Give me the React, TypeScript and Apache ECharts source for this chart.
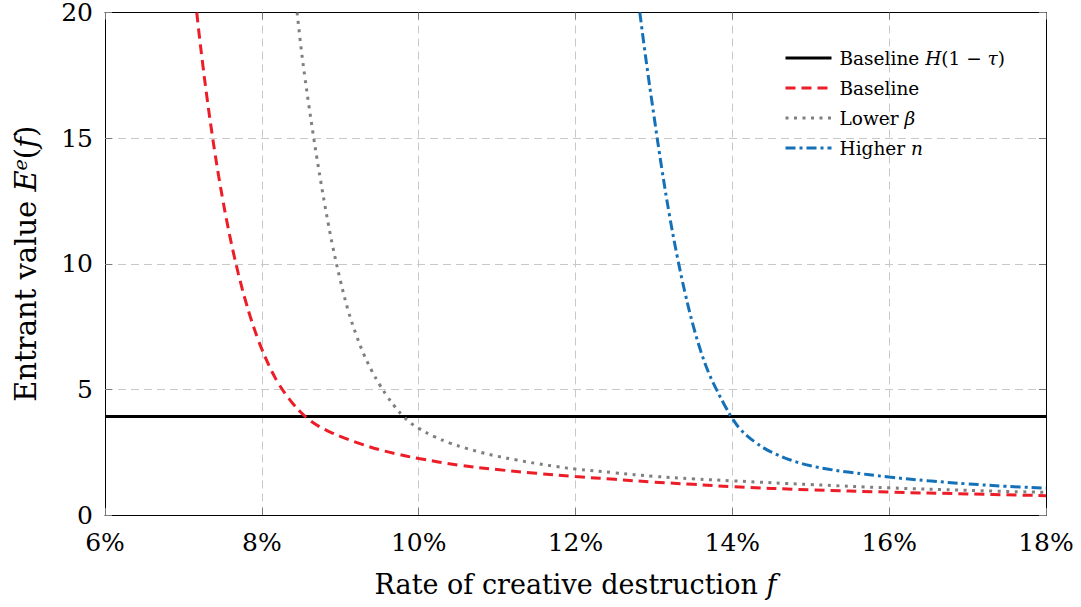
import React, { useEffect, useRef } from "react";
import * as echarts from "echarts";

// ---- data ----
const xMin = 6;
const xMax = 18;
const xStep = 2;
const yMin = 0;
const yMax = 20;
const yStep = 5;

const seriesNames = ["Baseline H(1 − τ)", "Baseline", "Lower β", "Higher n"];
const legendLabels = [
  "{n|Baseline }{i|H}{n|(1 − }{i|τ}{n|)}",
  "{n|Baseline}",
  "{n|Lower }{i|β}",
  "{n|Higher }{i|n}",
];

// Baseline H(1 - tau): a flat level across the plotted range
const baselineHF = [6, 18];
const baselineHE = [3.92, 3.92];

// Baseline
const baselineF = [
  7.17, 7.2, 7.25, 7.3, 7.35, 7.4, 7.45, 7.5, 7.55, 7.6, 7.65, 7.7, 7.75, 7.8, 7.85,
  7.9, 7.95, 8.0, 8.05, 8.1, 8.15, 8.2, 8.3, 8.4, 8.5, 8.6, 8.7, 8.8, 8.9, 9.0, 9.1,
  9.25, 9.5, 9.75, 10.0, 10.5, 11.0, 11.5, 12.0, 12.5, 13.0, 13.5, 14.0, 15.0, 16.0,
  17.0, 18.0,
];
const baselineE = [
  20, 19.15, 17.85, 16.63, 15.5, 14.45, 13.48, 12.58, 11.75, 10.98, 10.27, 9.61, 9.0, 8.44, 7.92,
  7.44, 7.0, 6.6, 6.23, 5.89, 5.58, 5.3, 4.82, 4.42, 4.08, 3.8, 3.58, 3.41, 3.26, 3.13, 3.01,
  2.84, 2.6, 2.41, 2.25, 1.99, 1.81, 1.66, 1.53, 1.42, 1.31, 1.22, 1.13, 1.0, 0.91,
  0.84, 0.77,
];

// Lower beta
const lowerBetaF = [
  8.45, 8.5, 8.55, 8.6, 8.65, 8.7, 8.75, 8.8, 8.85, 8.9, 9.0, 9.1, 9.2, 9.3, 9.4, 9.5,
  9.6, 9.7, 9.8, 9.9, 10.0, 10.2, 10.4, 10.6, 10.8, 11.0, 11.25, 11.5, 11.75, 12.0,
  12.5, 13.0, 13.5, 14.0, 15.0, 16.0, 17.0, 18.0,
];
const lowerBetaE = [
  20, 18.6, 17.4, 16.3, 15.25, 14.25, 13.3, 12.4, 11.55, 10.75, 9.35, 8.15, 7.2, 6.4, 5.75, 5.2,
  4.72, 4.3, 3.94, 3.66, 3.45, 3.12, 2.86, 2.66, 2.49, 2.34, 2.19, 2.05, 1.93, 1.83,
  1.68, 1.54, 1.44, 1.36, 1.21, 1.08, 0.98, 0.9,
];

// Higher n
const higherNF = [
  12.82, 12.9, 13.0, 13.1, 13.2, 13.3, 13.4, 13.5, 13.6, 13.7, 13.8, 13.9, 14.0, 14.1,
  14.2, 14.3, 14.4, 14.5, 14.75, 15.0, 15.25, 15.5, 16.0, 16.5, 17.0, 17.5, 18.0,
];
const higherNE = [
  20, 18.1, 15.9, 13.8, 11.9, 10.25, 8.8, 7.55, 6.5, 5.65, 4.98, 4.38, 3.84, 3.42,
  3.12, 2.88, 2.67, 2.5, 2.18, 1.96, 1.81, 1.7, 1.51, 1.36, 1.24, 1.14, 1.07,
];

const colors = ["#000000", "#ec1d27", "#7f7f7f", "#1471b8"];
const lineTypes: any[] = ["solid", [10, 6], [3, 5.5], [10, 4, 3, 4]];

const zip = (xs: number[], ys: number[]) => xs.map((x, i) => [x, ys[i]]);

const FONT = "DejaVu Serif";

export default function App() {
  const ref = useRef<HTMLDivElement>(null);

  useEffect(() => {
    if (!ref.current) return;
    const chart = echarts.init(ref.current, null, { renderer: "svg" });

    const datasets = [
      zip(baselineHF, baselineHE),
      zip(baselineF, baselineE),
      zip(lowerBetaF, lowerBetaE),
      zip(higherNF, higherNE),
    ];

    const legendRich = {
      n: { fontFamily: FONT, fontSize: 18.5, color: "#000", lineHeight: 20 },
      i: { fontFamily: FONT, fontSize: 18.5, fontStyle: "italic", color: "#000", lineHeight: 20 },
    };

    const tickStyle = { show: true, inside: true, length: 7, lineStyle: { color: "#7a7a7a", width: 1 } };
    const gridLine = { show: true, lineStyle: { color: "#c8c8c8", type: [8, 5], width: 1 } };

    chart.setOption({
      animation: false,
      backgroundColor: "#ffffff",
      grid: { left: 105, right: 35, top: 11, bottom: 92, containLabel: false },
      legend: {
        orient: "vertical",
        left: 784,
        top: 48,
        padding: 0,
        itemWidth: 46,
        itemHeight: 14,
        itemGap: 10,
        data: seriesNames,
        itemStyle: { opacity: 0, borderWidth: 0 },
        lineStyle: { width: 3 },
        formatter: (name: string) => legendLabels[seriesNames.indexOf(name)],
        textStyle: {
          fontFamily: FONT,
          fontSize: 18.5,
          lineHeight: 20,
          color: "#000",
          padding: [0, 0, 0, 3],
          rich: legendRich,
        },
      },
      xAxis: [
        {
          type: "value",
          min: xMin,
          max: xMax,
          interval: xStep,
          position: "bottom",
          axisLine: { show: true, onZero: false, lineStyle: { color: "#000", width: 1 } },
          axisTick: tickStyle,
          axisLabel: {
            formatter: (v: number) => `${v}%`,
            fontFamily: FONT,
            fontSize: 25,
            color: "#000",
            margin: 15,
          },
          splitLine: gridLine,
          name: "{n|Rate of creative destruction }{i|f}",
          nameLocation: "middle",
          nameGap: 56,
          nameTextStyle: {
            fontFamily: FONT,
            fontSize: 27,
            color: "#000",
            rich: {
              n: { fontFamily: FONT, fontSize: 27, color: "#000" },
              i: { fontFamily: FONT, fontSize: 27, fontStyle: "italic", color: "#000" },
            },
          },
        },
        {
          type: "value",
          min: xMin,
          max: xMax,
          interval: xStep,
          position: "top",
          axisLine: { show: true, onZero: false, lineStyle: { color: "#000", width: 1 } },
          axisTick: tickStyle,
          axisLabel: { show: false },
          splitLine: { show: false },
        },
      ],
      yAxis: [
        {
          type: "value",
          min: yMin,
          max: yMax,
          interval: yStep,
          position: "left",
          axisLine: { show: true, onZero: false, lineStyle: { color: "#000", width: 1 } },
          axisTick: tickStyle,
          axisLabel: { fontFamily: FONT, fontSize: 25, color: "#000", margin: 12 },
          splitLine: gridLine,
          name: "{n|Entrant value }{i|E}{sup|e}{n|(}{i|f}{n|)}",
          nameLocation: "middle",
          nameGap: 63,
          nameTextStyle: {
            fontFamily: FONT,
            fontSize: 29,
            color: "#000",
            lineHeight: 32,
            rich: {
              n: { fontFamily: FONT, fontSize: 29, color: "#000", lineHeight: 32 },
              i: { fontFamily: FONT, fontSize: 29, fontStyle: "italic", color: "#000", lineHeight: 32 },
              sup: {
                fontFamily: FONT,
                fontSize: 19,
                fontStyle: "italic",
                color: "#000",
                lineHeight: 19,
                verticalAlign: "top",
              },
            },
          },
        },
        {
          type: "value",
          min: yMin,
          max: yMax,
          interval: yStep,
          position: "right",
          axisLine: { show: true, onZero: false, lineStyle: { color: "#000", width: 1 } },
          axisTick: tickStyle,
          axisLabel: { show: false },
          splitLine: { show: false },
        },
      ],
      series: seriesNames.map((name, i) => ({
        name,
        type: "line",
        xAxisIndex: 0,
        yAxisIndex: 0,
        data: datasets[i],
        showSymbol: false,
        symbol: "none",
        smooth: i === 0 ? false : 0.4,
        clip: true,
        color: colors[i],
        lineStyle: { color: colors[i], width: 3, type: lineTypes[i], cap: "butt" },
        z: 2 + i,
      })),
    });

    return () => chart.dispose();
  }, []);

  return (
    <div
      ref={ref}
      style={{ position: "absolute", left: 0, top: 0, width: 1081, height: 607, background: "#fff" }}
    />
  );
}
